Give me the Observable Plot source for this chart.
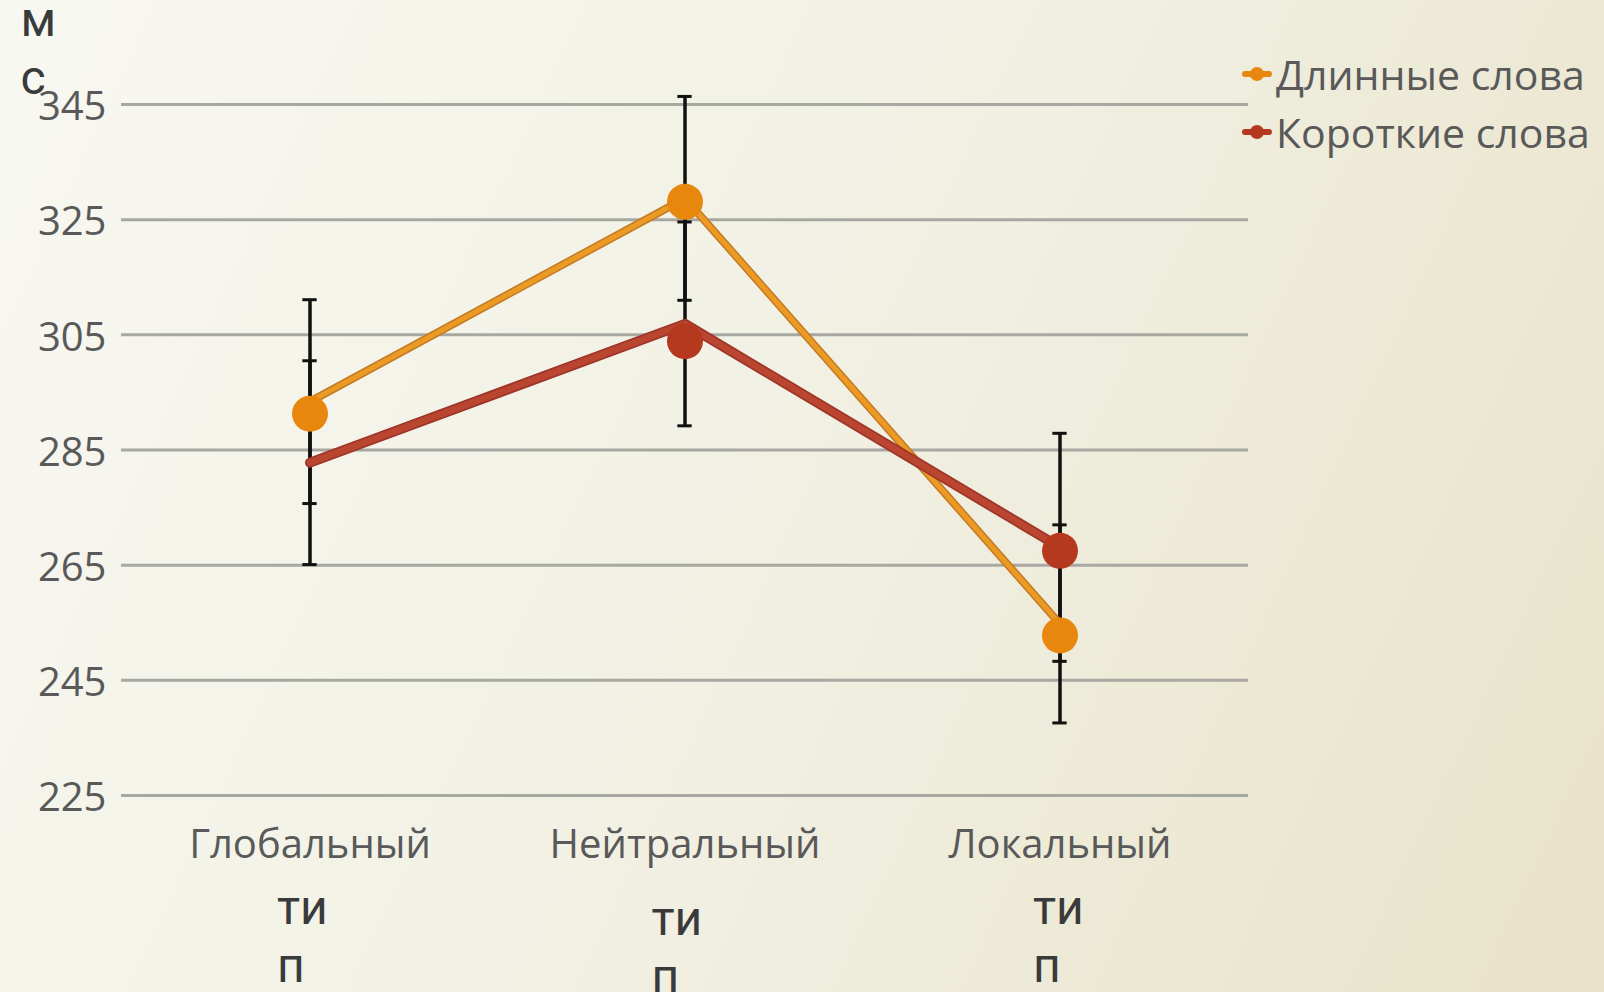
<!DOCTYPE html>
<html>
<head>
<meta charset="utf-8">
<script src="https://cdn.jsdelivr.net/npm/d3@7"></script>
<script src="https://cdn.jsdelivr.net/npm/@observablehq/plot@0.6"></script>
<style>
  html, body { margin: 0; padding: 0; width: 1604px; height: 992px; overflow: hidden; }
  body { background: linear-gradient(115deg, #F8F8F2 0%, #F1F0E3 50%, #E8E2C8 100%); position: relative; }
  #chart { position: absolute; left: 0; top: 0; }
  #legend { position: absolute; left: 1242px; top: 45px; font-family: "Open Sans", sans-serif; font-size: 41px; color: #595959; }
  .row { display: flex; align-items: center; height: 58px; white-space: nowrap; }
  .row svg { margin-right: 4px; }
</style>
</head>
<body>
<div id="chart"></div>
<div id="legend"></div>
<script>
const categories = ["Глобальный", "Нейтральный", "Локальный"];
const seriesNames = ["Длинные слова", "Короткие слова"];
const seriesColors = ["#E8870E", "#B5391F"];
const longMeans = [293.4, 328.7, 254.8];
const longErrors = [17.7, 17.7, 17.2];
const shortMeans = [282.8, 306.9, 268.1];
const shortErrors = [17.7, 17.7, 19.8];
const longMarkers = [291.3, 328.1, 252.8];
const shortMarkers = [null, 303.9, 267.5];
const yTicks = [225, 245, 265, 285, 305, 325, 345];
const unitText = "м\nс";
const suffixText = "ти\nп";

const means = [longMeans, shortMeans];
const errors = [longErrors, shortErrors];
const markers = [longMarkers, shortMarkers];

const rows = [];
seriesNames.forEach((s, si) => categories.forEach((c, ci) => {
  rows.push({series: s, cat: c, mean: means[si][ci], err: errors[si][ci], marker: markers[si][ci]});
}));
const longRows = rows.filter(d => d.series === seriesNames[0]);
const shortRows = rows.filter(d => d.series === seriesNames[1]);

const W = 1604, H = 992;
const mL = 121, mR = W - 1248, mT = 104, mB = H - 795;
const bandW = (W - mL - mR) / categories.length;
const capW = 15;
const roboto = {fontSize: 48, fontFamily: "Roboto, sans-serif", fontWeight: 400, fill: "#3A3A3A", textAnchor: "start", lineAnchor: "bottom", lineHeight: 58 / 48};

const plot = Plot.plot({
  width: W, height: H,
  marginLeft: mL, marginRight: mR, marginTop: mT, marginBottom: mB,
  style: {background: "transparent", fontFamily: "'Open Sans', sans-serif", color: "#595959", overflow: "visible"},
  x: {domain: categories, padding: 0, axis: null},
  y: {domain: [225, 345], axis: null},
  marks: [
    Plot.ruleY(yTicks, {stroke: "#A8A8A2", strokeWidth: 3}),
    Plot.axisY({ticks: yTicks, tickSize: 0, tickPadding: 15, fontSize: 40, dy: 3, fill: "#595959", label: null}),
    Plot.axisX({tickSize: 0, tickPadding: 34, fontSize: 40, fill: "#595959", label: null}),
    // error bars
    Plot.ruleX(rows, {x: "cat", y1: d => d.mean - d.err, y2: d => d.mean + d.err, stroke: "#111", strokeWidth: 3.5}),
    Plot.tickY(rows, {x: "cat", y: d => d.mean - d.err, stroke: "#111", strokeWidth: 3, insetLeft: (bandW - capW) / 2, insetRight: (bandW - capW) / 2}),
    Plot.tickY(rows, {x: "cat", y: d => d.mean + d.err, stroke: "#111", strokeWidth: 3, insetLeft: (bandW - capW) / 2, insetRight: (bandW - capW) / 2}),
    // long line
    Plot.line(longRows, {x: "cat", y: "mean", stroke: "#C47A22", strokeWidth: 8, strokeLinejoin: "round", strokeLinecap: "round"}),
    Plot.line(longRows, {x: "cat", y: "mean", stroke: "#EB9B25", strokeWidth: 5, strokeLinejoin: "round", strokeLinecap: "round"}),
    // short line
    Plot.line(shortRows, {x: "cat", y: "mean", stroke: "#9E3628", strokeWidth: 10, strokeLinejoin: "round", strokeLinecap: "round"}),
    Plot.line(shortRows, {x: "cat", y: "mean", stroke: "#BA4531", strokeWidth: 6.5, strokeLinejoin: "round", strokeLinecap: "round"}),
    // markers
    Plot.dot(rows.filter(d => d.marker != null), {x: "cat", y: "marker", r: 18, fill: d => seriesColors[seriesNames.indexOf(d.series)], stroke: "none"}),
    // unit text "мс"
    Plot.text([unitText], {...roboto, text: d => d, frameAnchor: "top-left", dx: -101, dy: -11}),
    // suffix texts under categories
    Plot.text([categories[0]], {...roboto, x: d => d, text: () => suffixText, frameAnchor: "bottom", dx: -33, dy: 186}),
    Plot.text([categories[1]], {...roboto, x: d => d, text: () => suffixText, frameAnchor: "bottom", dx: -33.5, dy: 197}),
    Plot.text([categories[2]], {...roboto, x: d => d, text: () => suffixText, frameAnchor: "bottom", dx: -27, dy: 186})
  ]
});
document.getElementById("chart").appendChild(plot);

const legend = document.getElementById("legend");
seriesNames.forEach((s, i) => {
  const row = document.createElement("div");
  row.className = "row";
  row.innerHTML = `<svg width="30" height="20"><line x1="3" y1="10" x2="27" y2="10" stroke="${seriesColors[i]}" stroke-width="6" stroke-linecap="round"/><circle cx="15" cy="10" r="7" fill="${seriesColors[i]}"/></svg><span>${s}</span>`;
  legend.appendChild(row);
});
</script>
</body>
</html>
